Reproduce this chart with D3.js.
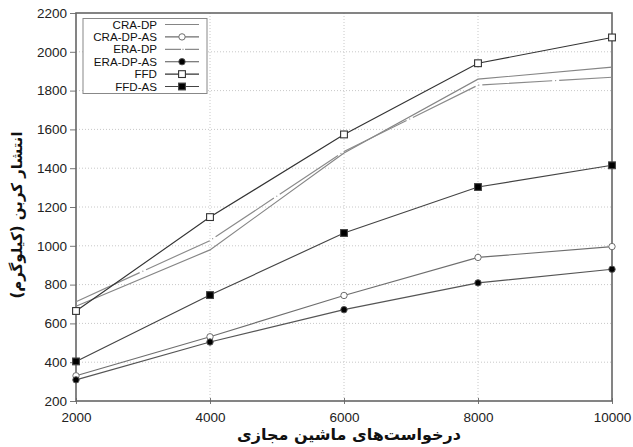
<!DOCTYPE html>
<html>
<head>
<meta charset="utf-8">
<script src="https://cdn.jsdelivr.net/npm/d3@7"></script>
<style>
  body { margin: 0; background: #fff; }
  svg { display: block; font-family: "Liberation Sans", Arial, sans-serif; }
</style>
</head>
<body>
<div id="chart"></div>
<script>
const requests = [2000, 4000, 6000, 8000, 10000];
const yTicks = [200, 400, 600, 800, 1000, 1200, 1400, 1600, 1800, 2000, 2200];

const craDp = [688, 979, 1478, 1859, 1921];
const craDpAs = [330, 531, 744, 940, 996];
const eraDp = [712, 1027, 1486, 1828, 1869];
const eraDpAs = [309, 504, 671, 809, 879];
const ffd = [664, 1148, 1574, 1941, 2074];
const ffdAs = [404, 746, 1066, 1303, 1415];

const seriesNames = ["CRA-DP", "CRA-DP-AS", "ERA-DP", "ERA-DP-AS", "FFD", "FFD-AS"];

const series = [
    {name: seriesNames[0], values: craDp, color: "#858585", marker: null, dash: null},
    {name: seriesNames[1], values: craDpAs, color: "#6e6e6e", marker: "circle", fill: "#fff"},
    {name: seriesNames[2], values: eraDp, color: "#8a8a8a", marker: null, dash: "70,3,1,3"},
    {name: seriesNames[3], values: eraDpAs, color: "#555", marker: "circle", fill: "#000"},
    {name: seriesNames[4], values: ffd, color: "#333", marker: "square", fill: "#fff"},
    {name: seriesNames[5], values: ffdAs, color: "#444", marker: "square", fill: "#000"}
];

const dims = {width: 633, height: 447};
const margins = {left: 76, top: 13, right: 21, bottom: 46};

const svg = d3.select("#chart")
    .append("svg")
    .attr("width", dims.width)
    .attr("height", dims.height);

const xScale = d3.scaleLinear().domain([2000, 10000]).range([margins.left, dims.width - margins.right]);
const yScale = d3.scaleLinear().domain([200, 2200]).range([dims.height - margins.bottom, margins.top]);

// grid
svg.append("g")
    .selectAll("line.gx")
    .data(requests.slice(1, -1))
    .enter()
    .append("line")
    .attr("x1", d => xScale(d)).attr("x2", d => xScale(d))
    .attr("y1", yScale(200)).attr("y2", yScale(2200))
    .attr("stroke", "#c8c8c8").attr("stroke-dasharray", "1,2");

svg.append("g")
    .selectAll("line.gy")
    .data(yTicks.slice(1, -1))
    .enter()
    .append("line")
    .attr("x1", xScale(2000)).attr("x2", xScale(10000))
    .attr("y1", d => yScale(d)).attr("y2", d => yScale(d))
    .attr("stroke", "#c8c8c8").attr("stroke-dasharray", "1,2");

// axes
const xAxis = svg.append("g")
    .attr("transform", `translate(0,${yScale(200)})`)
    .call(d3.axisBottom(xScale).tickValues(requests).tickFormat(d3.format("d")).tickSizeOuter(0).tickSize(6));

const yAxis = svg.append("g")
    .attr("transform", `translate(${xScale(2000)},0)`)
    .call(d3.axisLeft(yScale).tickValues(yTicks).tickFormat(d3.format("d")).tickSizeOuter(0).tickSize(6));

[xAxis, yAxis].forEach(a => {
    a.select(".domain").remove();
    a.selectAll("line").attr("stroke", "#777");
    a.selectAll("text").attr("font-size", 13.5).attr("fill", "#222")
        .attr("font-family", "'Liberation Sans', Arial, sans-serif");
});
xAxis.selectAll("text").attr("dy", "0.9em");
xAxis.selectAll(".tick line").attr("y1", -3).attr("y2", 3);

// frame
svg.append("rect")
    .attr("x", xScale(2000)).attr("y", yScale(2200))
    .attr("width", xScale(10000) - xScale(2000))
    .attr("height", yScale(200) - yScale(2200))
    .attr("fill", "none").attr("stroke", "#666").attr("stroke-width", 1.6);

// lines
const line = d3.line()
    .x((d, i) => xScale(requests[i]))
    .y(d => yScale(d));

function drawMarker(g, s, x, y) {
    if (s.marker === "circle") {
        g.append("circle").attr("cx", x).attr("cy", y).attr("r", 3.2)
            .attr("fill", s.fill).attr("stroke", s.color).attr("stroke-width", 1);
    } else if (s.marker === "square") {
        g.append("rect").attr("x", x - 3.4).attr("y", y - 3.4).attr("width", 6.8).attr("height", 6.8)
            .attr("fill", s.fill).attr("stroke", s.color).attr("stroke-width", 1.1);
    }
}

series.forEach(s => {
    svg.append("path")
        .attr("d", line(s.values))
        .attr("fill", "none")
        .attr("stroke", s.color)
        .attr("stroke-width", 1.15)
        .attr("stroke-dasharray", s.dash);
    const g = svg.append("g");
    s.values.forEach((v, i) => drawMarker(g, s, xScale(requests[i]), yScale(v)));
});

// legend
const legend = svg.append("g");
legend.append("rect")
    .attr("x", 83).attr("y", 18.5).attr("width", 124).attr("height", 75)
    .attr("fill", "#fff").attr("stroke", "#888").attr("stroke-width", 1);

series.forEach((s, i) => {
    const y = 24.5 + i * 12.4;
    legend.append("text")
        .attr("x", 157).attr("y", y).attr("dy", "0.35em")
        .attr("text-anchor", "end").attr("font-size", 11.6).attr("fill", "#111")
        .text(s.name);
    legend.append("line")
        .attr("x1", 165).attr("x2", 199).attr("y1", y).attr("y2", y)
        .attr("stroke", s.color).attr("stroke-width", 1.15)
        .attr("stroke-dasharray", s.dash ? "16,1.5,1,1.5" : null);
    drawMarker(legend, s, 182, y);
});

// axis titles
svg.append("text")
    .attr("x", 349).attr("y", 440)
    .attr("text-anchor", "middle")
    .attr("font-family", "'DejaVu Sans', 'Noto Sans', sans-serif")
    .attr("font-weight", "bold").attr("font-size", 16)
    .attr("direction", "rtl")
    .attr("fill", "#111")
    .text("درخواست‌های ماشین مجازی");

svg.append("text")
    .attr("transform", "translate(22,215) rotate(-90)")
    .attr("text-anchor", "middle")
    .attr("font-family", "'DejaVu Sans', 'Noto Sans', sans-serif")
    .attr("font-weight", "bold").attr("font-size", 15)
    .attr("direction", "rtl")
    .attr("fill", "#111")
    .text("انتشار کربن (کیلوگرم)");
</script>
</body>
</html>
